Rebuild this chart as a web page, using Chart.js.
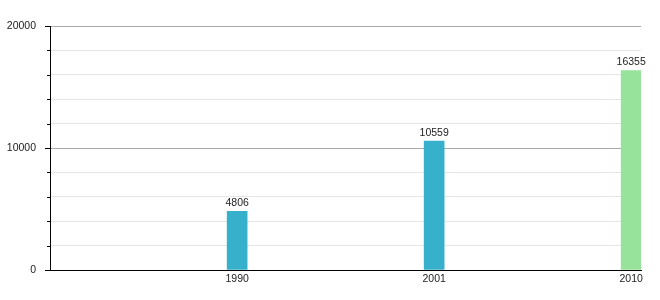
<!DOCTYPE html>
<html>
<head>
<meta charset="utf-8">
<script src="https://cdn.jsdelivr.net/npm/chart.js@4"></script>
<style>
    html, body { margin: 0; padding: 0; background: #ffffff; }
    #wrap { width: 660px; height: 300px; }
</style>
</head>
<body>
<div id="wrap"><canvas id="myChart"></canvas></div>
<script>
// Datos del gráfico
const anios = ["1990", "2001", "2010"];
const posiciones = [1, 2, 3];
const poblacion = [4806, 10559, 16355];
const coloresBarras = ["#37b1cb", "#37b1cb", "#98e39b"];
const ticksY = [0, 10000, 20000];

const fuente = { family: "'Liberation Sans', Arial, sans-serif", size: 10.5 };

// Plugin para dibujar los valores sobre las barras
const etiquetasBarras = {
    id: "etiquetasBarras",
    afterDatasetsDraw(chart) {
        const ctx = chart.ctx;
        const meta = chart.getDatasetMeta(0);
        ctx.save();
        ctx.font = `${fuente.size}px ${fuente.family}`;
        ctx.fillStyle = "#222222";
        ctx.textAlign = "center";
        ctx.textBaseline = "alphabetic";
        meta.data.forEach((barra, i) => {
            ctx.fillText(String(poblacion[i]), barra.x, barra.y - 5);
        });
        ctx.restore();
    }
};

// Plugin para las marcas del eje Y (mayores y menores)
const marcasEjeY = {
    id: "marcasEjeY",
    afterDraw(chart) {
        const ctx = chart.ctx;
        const escala = chart.scales.y;
        const izq = chart.chartArea.left;
        ctx.save();
        ctx.strokeStyle = "#000000";
        ctx.lineWidth = 1;
        escala.ticks.forEach((t) => {
            const y = Math.round(escala.getPixelForValue(t.value)) + 0.5;
            const largo = ticksY.includes(t.value) ? 5 : 3;
            ctx.beginPath();
            ctx.moveTo(izq - largo, y);
            ctx.lineTo(izq, y);
            ctx.stroke();
        });
        ctx.restore();
    }
};

const data = {
    datasets: [
        {
            data: posiciones.map((x, i) => ({ x: x, y: poblacion[i] })),
            backgroundColor: coloresBarras,
            borderWidth: 0,
            barThickness: 20,
        }
    ]
};

const config = {
    type: "bar",
    data,
    options: {
        responsive: true,
        maintainAspectRatio: false,
        animation: false,
        layout: {
            padding: { top: 26, right: 19, left: 0, bottom: 0 }
        },
        scales: {
            x: {
                type: "linear",
                offset: false,
                min: 0.05,
                max: 3.05,
                afterBuildTicks: (escala) => {
                    escala.ticks = posiciones.map((v) => ({ value: v }));
                },
                afterFit: (escala) => { escala.height = 30; },
                grid: { display: false, drawTicks: false },
                border: { color: "#000000", width: 1 },
                ticks: {
                    padding: 3,
                    color: "#222222",
                    font: fuente,
                    maxRotation: 0,
                    callback: (valor) => anios[posiciones.indexOf(valor)] || "",
                }
            },
            y: {
                min: 0,
                max: 20000,
                afterFit: (escala) => { escala.width = 50; },
                grid: {
                    drawTicks: false,
                    color: (c) => ticksY.includes(c.tick.value) ? "#a9a9a9" : "#e6e6e6",
                },
                border: { color: "#000000", width: 1 },
                ticks: {
                    stepSize: 2000,
                    padding: 14,
                    color: "#222222",
                    font: fuente,
                    callback: (valor) => ticksY.includes(valor) ? String(valor) : "",
                }
            }
        },
        plugins: {
            legend: { display: false },
            tooltip: { enabled: false },
        }
    },
    plugins: [etiquetasBarras, marcasEjeY]
};

const myChart = document.getElementById("myChart");
new Chart(myChart, config);
</script>
</body>
</html>
